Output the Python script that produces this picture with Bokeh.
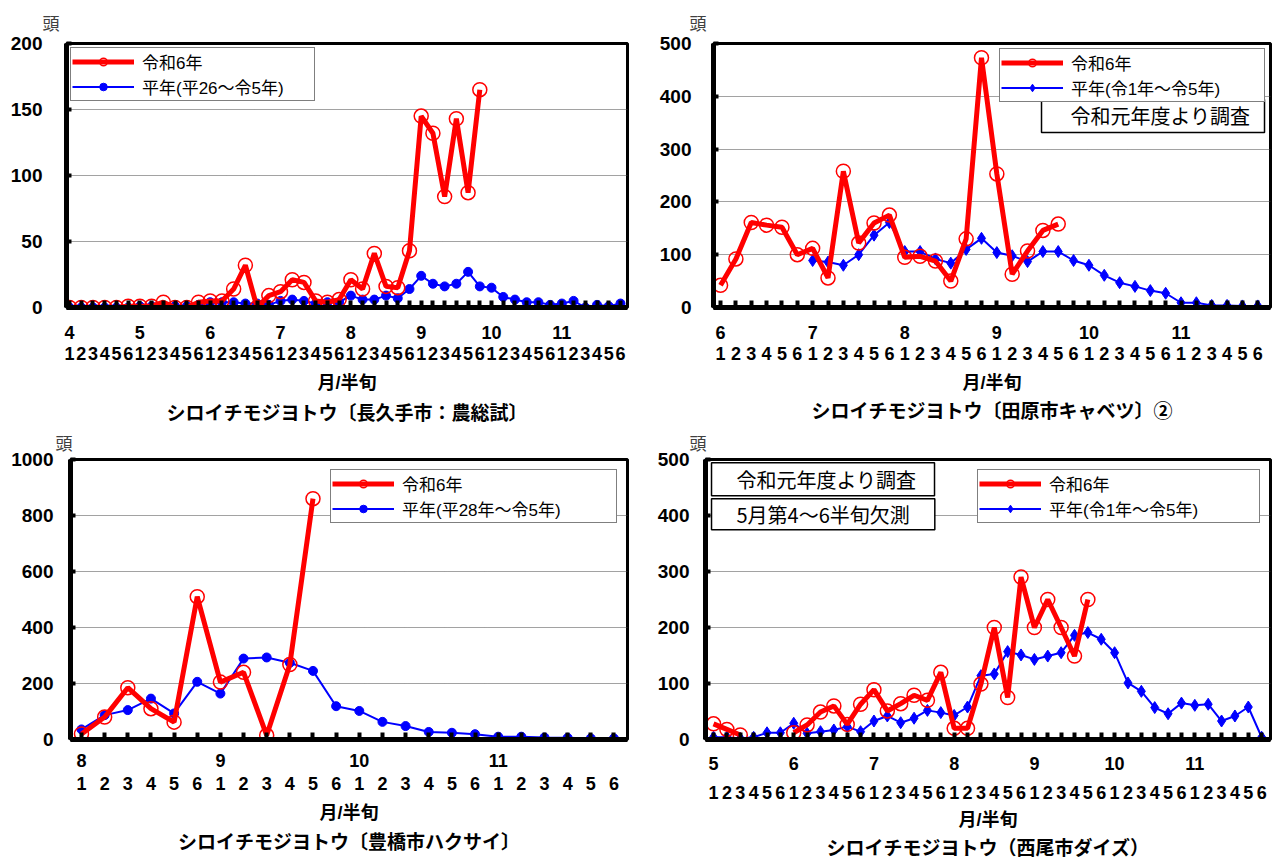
from bokeh.plotting import figure
from bokeh.models import (FixedTicker, LinearAxis, Legend, LegendItem,
                          Label, Range1d, Title)
from bokeh.layouts import column, row
from bokeh.embed import file_html
from bokeh.resources import INLINE

JP = "Noto Sans CJK JP"
JPL = "Liberation Sans, Noto Sans CJK JP"
NUM = "Liberation Sans"
RED = "#FF0000"
BLUE = "#0000FF"
NaN = float("nan")

# ---------------- data ----------------
# Panel 1: 長久手市 (農総試)  4月1半旬 ～ 11月6半旬
nagakute_months = [4, 5, 6, 7, 8, 9, 10, 11]
nagakute_r6 = [0, 0, 0, 0, 0, 1, 1, 1, 4, 0, 0, 4,
               5, 5, 14, 32, 0, 9, 12, 21, 19, 5, 4, 6,
               21, 14, 41, 16, 15, 43, 145, 132, 84, 143, 87, 165]
nagakute_avg = [0, 0, 0, 0, 0, 0, 1, 1, 1, 1, 1, 2,
                4, 4, 4, 3, 3, 2, 5, 6, 5, 3, 4, 4,
                9, 6, 6, 9, 7, 14, 24, 18, 16, 18, 27, 16,
                15, 8, 6, 4, 4, 2, 3, 5, 0, 2, 1, 3]
nagakute_avg_label = "平年(平26～令5年)"
nagakute_title = "シロイチモジヨトウ〔長久手市：農総試〕"

# Panel 2: 田原市キャベツ②  6月1半旬 ～ 11月6半旬 (平年は7月1半旬から)
tahara_months = [6, 7, 8, 9, 10, 11]
tahara_r6 = [42, 92, 161, 156, 152, 100, 112, 56, 258, 122, 160, 175,
             95, 97, 88, 50, 130, 473, 253, 63, 107, 146, 158]
tahara_avg_start = 6
tahara_avg = [89, 86, 80, 100, 137, 161, 106, 106, 92, 84, 110, 131,
              104, 98, 87, 106, 106, 89, 80, 61, 47, 40, 32, 27,
              9, 9, 4, 4, 3, 3]
tahara_avg_label = "平年(令1年～令5年)"
tahara_title = "シロイチモジヨトウ〔田原市キャベツ〕②"
tahara_note = "令和元年度より調査"

# Panel 3: 豊橋市ハクサイ  8月1半旬 ～ 11月6半旬
toyohashi_months = [8, 9, 10, 11]
toyohashi_r6 = [20, 80, 185, 110, 62, 510, 205, 240, 15, 268, 860]
toyohashi_avg = [36, 87, 105, 146, 93, 206, 164, 289, 293, 274, 245, 119,
                 102, 63, 48, 27, 24, 19, 10, 10, 7, 6, 4, 4]
toyohashi_avg_label = "平年(平28年～令5年)"
toyohashi_title = "シロイチモジヨトウ〔豊橋市ハクサイ〕"

# Panel 4: 西尾市ダイズ  5月1半旬 ～ 11月6半旬 (5月第4～6半旬欠測)
nishio_months = [5, 6, 7, 8, 9, 10, 11]
nishio_r6 = [28, 18, 8, NaN, NaN, NaN, 12, 26, 49, 60, 27, 63,
             89, 51, 64, 79, 70, 120, 20, 20, 99, 200, 75, 290,
             200, 250, 200, 149, 250]
nishio_avg = [4, 4, 2, 4, 12, 12, 29, 11, 14, 17, 23, 14,
              33, 42, 30, 38, 52, 48, 43, 58, 114, 117, 157, 151,
              143, 149, 155, 186, 191, 179, 155, 101, 86, 57, 46, 65,
              61, 63, 33, 42, 58, 4]
nishio_avg_label = "平年(令1年～令5年)"
nishio_title = "シロイチモジヨトウ（西尾市ダイズ）"
nishio_notes = ["令和元年度より調査", "5月第4～6半旬欠測"]

R6_LABEL = "令和6年"
XLABEL = "月/半旬"
YUNIT = "頭"


def make_panel(months, r6, avg, avg_start, avg_label, title, ymax, ystep,
               avg_marker, g):
    n = len(months) * 6
    xs_all = list(range(n))
    x0, x1 = g["xr"]
    p = figure(width=g["w"], height=g["h"], output_backend="svg",
               toolbar_location=None, title=None,
               x_range=Range1d(x0, x1), y_range=Range1d(0, ymax),
               min_border_left=g["bl"], min_border_top=g["bt"],
               min_border_right=g["br"], min_border_bottom=g["bb"])
    p.background_fill_color = "white"
    p.border_fill_color = "white"
    p.outline_line_color = "black"
    p.outline_line_width = 3
    p.xgrid.visible = False
    p.ygrid.grid_line_color = "#444444"
    p.ygrid.grid_line_dash = "1 1"
    p.ygrid.grid_line_width = 1

    p.yaxis.ticker = FixedTicker(ticks=list(range(0, ymax + 1, ystep)))
    p.yaxis.axis_line_width = 5
    p.yaxis.major_tick_in = 5
    p.yaxis.major_tick_out = 0
    p.yaxis.major_tick_line_width = 4
    p.yaxis.minor_tick_line_color = None
    p.yaxis.major_label_text_font = NUM
    p.yaxis.major_label_text_font_style = "bold"
    p.yaxis.major_label_text_font_size = "19px"
    p.yaxis.major_label_text_color = "black"
    p.yaxis.major_label_standoff = g["ysoff"]

    # month axis, with a tick at every half-decade
    xa = p.xaxis[0]
    xa.ticker = FixedTicker(ticks=xs_all)
    xa.major_label_overrides = {i: (str(months[i // 6]) if i % 6 == 0 else "")
                                for i in xs_all}
    xa.axis_line_width = 5
    xa.major_tick_in = 7
    xa.major_tick_out = 0
    xa.major_tick_line_width = 4
    xa.minor_tick_line_color = None
    xa.major_label_text_font = NUM
    xa.major_label_text_font_style = "bold"
    xa.major_label_text_font_size = "18px"
    xa.major_label_text_color = "black"
    xa.major_label_standoff = g["s"][0]

    # half-decade axis with axis title
    ha = LinearAxis(ticker=FixedTicker(ticks=xs_all),
                    major_label_overrides={i: str(i % 6 + 1) for i in xs_all},
                    axis_line_color=None, major_tick_line_color=None,
                    minor_tick_line_color=None,
                    major_label_text_font=NUM,
                    major_label_text_font_style="bold",
                    major_label_text_font_size="18px",
                    major_label_text_color="black",
                    major_label_standoff=g["s"][1],
                    axis_label=XLABEL, axis_label_text_font=JPL,
                    axis_label_text_font_style="bold",
                    axis_label_text_font_size="18px",
                    axis_label_text_color="black",
                    axis_label_standoff=g["s"][2])
    p.add_layout(ha, "below")

    p.add_layout(Title(text=title, align="center", offset=g["toff"],
                       text_font=JPL, text_font_style="bold",
                       text_font_size="19px", text_color="black",
                       standoff=g["s"][3]), "below")
    p.add_layout(Title(text=YUNIT, align="left", offset=g["uoff"],
                       vertical_align="top",
                       text_font=JPL, text_font_style="normal",
                       text_font_size="17px", text_color="#404040",
                       standoff=g["ust"]), "above")

    # series
    rx = list(range(len(r6)))
    ax = list(range(avg_start, avg_start + len(avg)))
    bl = p.line(ax, avg, line_color=BLUE, line_width=2)
    if avg_marker == "diamond":
        bs = p.scatter(ax, avg, marker="diamond", size=12, fill_color=BLUE,
                       line_color=BLUE)
    else:
        bs = p.scatter(ax, avg, marker="circle", size=9, fill_color=BLUE,
                       line_color=BLUE)
    rl = p.line(rx, r6, line_color=RED, line_width=5)
    rs = p.scatter(rx, r6, marker="circle", size=14, fill_color=None,
                   line_color=RED, line_width=1.5)

    leg = Legend(items=[LegendItem(label=R6_LABEL, renderers=[rl, rs]),
                        LegendItem(label=avg_label, renderers=[bl, bs])],
                 location=g["lloc"], margin=g["lmar"],
                 border_line_color="black", border_line_width=1.5,
                 background_fill_color="white", background_fill_alpha=1,
                 label_text_font=JPL, label_text_font_size="17px",
                 label_text_color="black",
                 glyph_width=62, glyph_height=19, label_standoff=8,
                 padding=1, spacing=0, label_height=19,
                 label_width=g["lw"])
    p.add_layout(leg)
    return p


g1 = dict(w=640, h=430, bl=66, bt=43, br=13, bb=123, xr=(-0.26, 47.6),
          s=(18, -1, 10, 11), toff=-8, ysoff=24, uoff=-24, ust=16,
          lloc="top_left", lmar=4, lw=171)
g2 = dict(w=639, h=430, bl=73, bt=43, br=9, bb=123, xr=(-0.46, 35.83),
          s=(18, -1, 10, 6), toff=2, ysoff=22, uoff=-24, ust=16,
          lloc="top_right", lmar=5, lw=192)
g3 = dict(w=640, h=432, bl=70, bt=29, br=13, bb=123, xr=(-0.475, 23.586),
          s=(14, 1, 10, 9), toff=-8, ysoff=17, uoff=-15, ust=8,
          lloc="top_right", lmar=10, lw=213)
g4 = dict(w=639, h=432, bl=65, bt=29, br=9, bb=123, xr=(-0.6, 41.66),
          s=(17, 7, 8, 6), toff=-4, ysoff=16, uoff=-16, ust=8,
          lloc="top_right", lmar=10, lw=209)

p1 = make_panel(nagakute_months, nagakute_r6, nagakute_avg, 0,
                nagakute_avg_label, nagakute_title, 200, 50, "circle", g1)
p2 = make_panel(tahara_months, tahara_r6, tahara_avg, tahara_avg_start,
                tahara_avg_label, tahara_title, 500, 100, "diamond", g2)
p3 = make_panel(toyohashi_months, toyohashi_r6, toyohashi_avg, 0,
                toyohashi_avg_label, toyohashi_title, 1000, 200, "circle", g3)
p4 = make_panel(nishio_months, nishio_r6, nishio_avg, 0,
                nishio_avg_label, nishio_title, 500, 100, "diamond", g4)

box_style = dict(border_line_color="black", border_line_width=1.5,
                 background_fill_color="white", background_fill_alpha=1,
                 text_font=JP, text_font_size="20px", text_color="black",
                 text_baseline="top")
p2.add_layout(Label(x=35.44, y=394, text=tahara_note, text_align="right",
                    padding=dict(left=29, right=14, top=2, bottom=2),
                    **box_style))
p4.add_layout(Label(x=-0.15, y=494, text=nishio_notes[0], text_align="left",
                    padding=dict(left=25, right=18, top=2, bottom=2),
                    **box_style))
p4.add_layout(Label(x=-0.15, y=430, text=nishio_notes[1], text_align="left",
                    padding=dict(left=25, right=25, top=1, bottom=1),
                    **box_style))

layout = column(row(p1, p2), row(p3, p4))
open("out.html", "w").write(file_html(layout, INLINE))
